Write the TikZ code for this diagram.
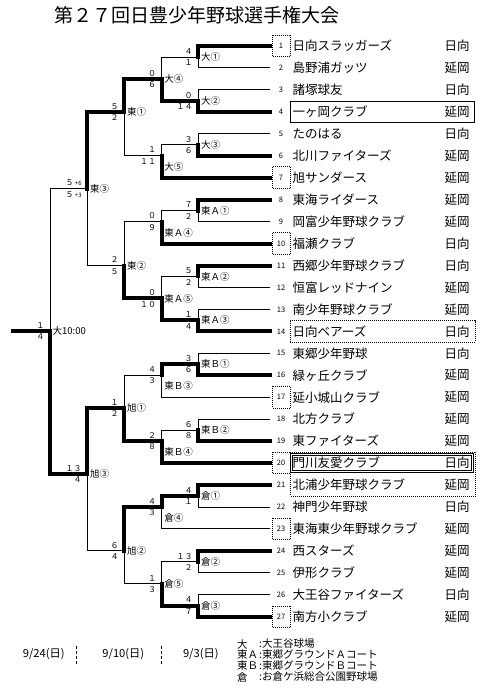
\documentclass[tikz,border=0pt]{standalone}
\usepackage{fontspec}
\setmainfont{Noto Sans CJK JP}
\usetikzlibrary{positioning, calc}

% row position of team k (pixels from the top)
\newcommand{\rw}[1]{46+(#1-1)*21.95}
\newcommand{\pk}[1]{\,{\fontsize{6}{6}\selectfont +#1}}

\tikzset{
  win/.style={line width=4pt, line cap=rect, line join=miter},
  lose/.style={line width=0.9pt},
  dotbox/.style={line width=0.8pt, dash pattern=on 1pt off 1pt},
  score/.style={font=\fontsize{8}{8}\selectfont, inner sep=0pt, anchor=east},
  game/.style={font=\fontsize{9.5}{9.5}\selectfont, inner sep=0pt, anchor=west},
  num/.style={font=\fontsize{7.5}{7.5}\selectfont, inner sep=0pt},
  team/.style={font=\fontsize{12.5}{12.5}\selectfont, inner sep=0pt, anchor=west},
  legend/.style={font=\fontsize{10.5}{10.5}\selectfont, inner sep=0pt, anchor=west},
  day/.style={font=\fontsize{11.2}{11.2}\selectfont, inner sep=0pt}
}

\begin{document}
\begin{tikzpicture}[x=1pt, y=-1pt]
\useasboundingbox (0,0) rectangle (488,695);

% title
\node[font=\fontsize{19}{19}\selectfont, inner sep=0pt] (title) at (197,15) {第２７回日豊少年野球選手権大会};

% teams
\foreach \k/\nm/\rg in {1/日向スラッガーズ/日向, 2/島野浦ガッツ/延岡, 3/諸塚球友/日向,
  4/一ヶ岡クラブ/延岡, 5/たのはる/日向, 6/北川ファイターズ/延岡, 7/旭サンダース/延岡,
  8/東海ライダース/延岡, 9/岡富少年野球クラブ/延岡, 10/福瀬クラブ/日向,
  11/西郷少年野球クラブ/日向, 12/恒富レッドナイン/延岡, 13/南少年野球クラブ/延岡,
  14/日向ベアーズ/日向, 15/東郷少年野球/日向, 16/緑ヶ丘クラブ/延岡,
  17/延小城山クラブ/延岡, 18/北方クラブ/延岡, 19/東ファイターズ/延岡,
  20/門川友愛クラブ/日向, 21/北浦少年野球クラブ/延岡, 22/神門少年野球/日向,
  23/東海東少年野球クラブ/延岡, 24/西スターズ/延岡, 25/伊形クラブ/延岡,
  26/大王谷ファイターズ/日向, 27/南方小クラブ/延岡}
{
  \coordinate (t\k) at (270,{\rw{\k}});
  \node[num] (num\k) at (281,{\rw{\k}}) {\k};
  \node[team] (n\k) at (292.5,{\rw{\k}}) {\nm};
  \node[team] (r\k) at (444.5,{\rw{\k}}) {\rg};
}

% seeded numbers
\foreach \k in {1,7,10,17,20,23,27}
  \draw[dotbox] (272.7,{\rw{\k}-10.8}) rectangle (290.7,{\rw{\k}+10.8});

% finalists and semi-finalists
\draw[line width=0.8pt] (290,{\rw{4}-10.8}) rectangle (474,{\rw{4}+10.8});
\draw[dotbox] (290,{\rw{14}-10.8}) rectangle (475.7,{\rw{14}+10.8});
\draw[dotbox] (290.7,{\rw{20}-11}) rectangle (475.7,{\rw{21}+11});
\draw[line width=0.8pt] (290.7,{\rw{20}-9.7}) rectangle (473.3,{\rw{20}+9.7});
\draw[line width=0.8pt] (292.7,{\rw{20}-7.7}) rectangle (471.3,{\rw{20}+7.7});

% games: name / label / x / junction row / label row / top score / bottom score
\foreach \m/\lab/\x/\yo/\yl/\st/\sb in {
  d1/大①/198.3/1.5/1.5/４/１, d2/大②/198.3/3.5/3.5/０/１４,
  d3/大③/198.3/5.5/5.5/３/６, d4/大④/161.7/2.5/2.5/０/６,
  d5/大⑤/161.7/6/6.5/１/１１, e1/東①/124.3/4/4/５/２,
  a1/東Ａ①/198.3/8.5/8.5/７/２, a2/東Ａ②/198.3/11.5/11.5/５/２,
  a3/東Ａ③/198.3/13.5/13.5/１/４, a4/東Ａ④/161.7/9/9.5/０/９,
  a5/東Ａ⑤/161.7/12.5/12.5/０/１０, e2/東②/124.3/11/11/２/５,
  e3/東③/87.3/7.5/7.5/５\pk{6}/５\pk{3},
  b1/東Ｂ①/198.3/15.5/15.5/３/６, b2/東Ｂ②/198.3/18.5/18.5/６/８,
  b3/東Ｂ③/161.7/16/16.5/４/３, b4/東Ｂ④/161.7/19/19.5/２/８,
  h1/旭①/124.3/17.5/17.5/１/２,
  k1/倉①/198.3/21.5/21.5/４/１, k2/倉②/198.3/24.5/24.5/１３/２,
  k3/倉③/198.3/26.5/26.5/４/７, k4/倉④/161.7/22/22.5/４/３,
  k5/倉⑤/161.7/25.5/25.5/１/３, h2/旭②/124.3/24/24/６/４,
  h3/旭③/87.3/20.5/20.5/１３/４, fin/大10:00/50/14/14/１/４}
{
  \coordinate (\m) at (\x,{\rw{\yo}});
  \node[score] (\m-top) at ([shift={(-5.5,-5.7)}]\m) {\st};
  \node[score] (\m-bot) at ([shift={(-5.5,5.7)}]\m) {\sb};
  \node[game] (\m-lab) at ({\x+2.5},{\rw{\yl}}) {\lab};
}
\coordinate (champ) at (12.7,{\rw{14}});

% losers
\foreach \a/\b in {t2/d1, t3/d2, d1/d4, t5/d3, d3/d5, d5/e1, t9/a1, a1/a4,
  t12/a2, t13/a3, a2/a5, a4/e2, e2/e3, e3/fin, t15/b1, t17/b3, t18/b2,
  b2/b4, b3/h1, t22/k1, t23/k4, t25/k2, t26/k3, k2/k5, k5/h2, h2/h3}
  \draw[lose] (\a) -| (\b);

% winners
\foreach \a/\b in {t1/d1, t4/d2, d2/d4, t6/d3, t7/d5, d4/e1, t8/a1, t10/a4,
  t11/a2, t14/a3, a3/a5, a5/e2, e1/e3, h3/fin, t16/b1, b1/b3, t19/b2,
  t20/b4, b4/h1, t21/k1, k1/k4, t24/k2, t27/k3, k3/k5, k4/h2, h1/h3}
  \draw[win] (\a) -| (\b);
\draw[win] (fin) -- (champ);

% dates
\node[day] (day3) at (43.7,654) {9/24(日)};
\node[day] (day2) at (123.3,654) {9/10(日)};
\node[day] (day1) at (200.8,654) {9/3(日)};
\draw[line width=0.8pt, dash pattern=on 3pt off 2pt] (76.7,646) -- (76.7,664);
\draw[line width=0.8pt, dash pattern=on 3pt off 2pt] (161.3,646) -- (161.3,664);

% grounds
\foreach \i/\key/\txt in {0/大/大王谷球場, 1/東Ａ/東郷グラウンドＡコート,
  2/東Ｂ/東郷グラウンドＢコート, 3/倉/お倉ケ浜総合公園野球場}
{
  \node[legend] (key\i) at (237,{644+\i*11}) {\key};
  \node[legend] (gr\i) at (259,{644+\i*11}) {:\txt};
}
\end{tikzpicture}
\end{document}
